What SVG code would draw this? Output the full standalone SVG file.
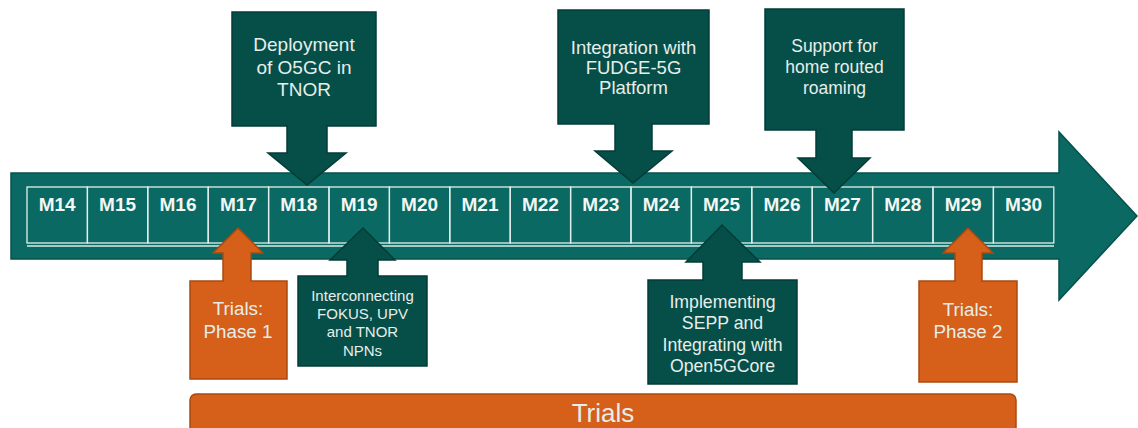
<svg xmlns="http://www.w3.org/2000/svg" width="1138" height="428" viewBox="0 0 1138 428">
<style>
.main{fill:#0A6962;stroke:#08504A;stroke-width:1.5}
.dk{fill:#064E48;stroke:#043C37;stroke-width:1.5}
.or{fill:#D6601A;stroke:#A9490F;stroke-width:1.5}
.cell{fill:none;stroke:#E4EEEB;stroke-width:1.3}
.m{font-family:"Liberation Sans",Arial,sans-serif;font-weight:bold;font-size:19px;fill:#F2F7F5;text-anchor:middle}
.t{font-family:"Liberation Sans",Arial,sans-serif;fill:#E6EEEB;text-anchor:middle}
</style>
<rect width="1138" height="428" fill="#FFFFFF"/>
<g id="timeline">
<path class="main" d="M11,173 H1059 V132 L1137,216 L1059,300 V259 H11 Z"/>
<line x1="27" y1="246" x2="1054" y2="246" stroke="#DCE8E4" stroke-width="1.5"/>
<g id="months">
<rect class="cell" x="27" y="187" width="60.4" height="56"/><text class="m" x="57.2" y="211">M14</text>
<rect class="cell" x="87.4" y="187" width="60.4" height="56"/><text class="m" x="117.6" y="211">M15</text>
<rect class="cell" x="147.8" y="187" width="60.4" height="56"/><text class="m" x="178" y="211">M16</text>
<rect class="cell" x="208.2" y="187" width="60.4" height="56"/><text class="m" x="238.4" y="211">M17</text>
<rect class="cell" x="268.6" y="187" width="60.4" height="56"/><text class="m" x="298.8" y="211">M18</text>
<rect class="cell" x="329" y="187" width="60.4" height="56"/><text class="m" x="359.2" y="211">M19</text>
<rect class="cell" x="389.4" y="187" width="60.4" height="56"/><text class="m" x="419.6" y="211">M20</text>
<rect class="cell" x="449.8" y="187" width="60.4" height="56"/><text class="m" x="480" y="211">M21</text>
<rect class="cell" x="510.2" y="187" width="60.4" height="56"/><text class="m" x="540.4" y="211">M22</text>
<rect class="cell" x="570.6" y="187" width="60.4" height="56"/><text class="m" x="600.8" y="211">M23</text>
<rect class="cell" x="631" y="187" width="60.4" height="56"/><text class="m" x="661.2" y="211">M24</text>
<rect class="cell" x="691.4" y="187" width="60.4" height="56"/><text class="m" x="721.6" y="211">M25</text>
<rect class="cell" x="751.8" y="187" width="60.4" height="56"/><text class="m" x="782" y="211">M26</text>
<rect class="cell" x="812.2" y="187" width="60.4" height="56"/><text class="m" x="842.4" y="211">M27</text>
<rect class="cell" x="872.6" y="187" width="60.4" height="56"/><text class="m" x="902.8" y="211">M28</text>
<rect class="cell" x="933" y="187" width="60.4" height="56"/><text class="m" x="963.2" y="211">M29</text>
<rect class="cell" x="993.4" y="187" width="60.4" height="56"/><text class="m" x="1023.6" y="211">M30</text>
</g>
</g>
<g id="connectors"></g>
<g id="deployment">
<path class="dk" d="M232,12 H376 V126 H327 V153 H346 L307,185 L268,153 H287 V126 H232 Z"/>
<text class="t" font-size="19" x="304" y="51">Deployment</text>
<text class="t" font-size="19" x="304" y="73.5">of O5GC in</text>
<text class="t" font-size="19" x="304" y="96">TNOR</text>
</g>
<g id="fudge">
<path class="dk" d="M558,10 H709 V124 H652 V151 H672 L633,183 L595,151 H615 V124 H558 Z"/>
<text class="t" font-size="18.5" x="633.5" y="53.5">Integration with</text>
<text class="t" font-size="18.5" x="633.5" y="73.5">FUDGE-5G</text>
<text class="t" font-size="18.5" x="633.5" y="93.5">Platform</text>
</g>
<g id="roaming">
<path class="dk" d="M765,9 H904 V130 H852 V158 H870 L834,193 L798,158 H816 V130 H765 Z"/>
<text class="t" font-size="17.5" x="834.5" y="52">Support for</text>
<text class="t" font-size="17.5" x="834.5" y="73">home routed</text>
<text class="t" font-size="17.5" x="834.5" y="94">roaming</text>
</g>
<g id="phase1">
<path class="or" d="M190,281 H223 V253 H213 L238,228 L263,253 H251 V281 H287 V379 H190 Z"/>
<text class="t" font-size="18.8" x="238" y="315">Trials:</text>
<text class="t" font-size="18.8" x="238" y="338">Phase 1</text>
</g>
<g id="interconnecting">
<path class="dk" d="M298,276 H347 V260 H330 L363,228 L395,260 H378 V276 H427 V366 H298 Z"/>
<text class="t" font-size="15" x="362.5" y="300.5">Interconnecting</text>
<text class="t" font-size="15" x="362.5" y="318.5">FOKUS, UPV</text>
<text class="t" font-size="15" x="362.5" y="336.5">and TNOR</text>
<text class="t" font-size="15" x="362.5" y="355.5">NPNs</text>
</g>
<g id="sepp">
<path class="dk" d="M648,280 H703 V262 H686 L722,225 L760,262 H742 V280 H797 V384 H648 Z"/>
<text class="t" font-size="17.7" x="722.5" y="308">Implementing</text>
<text class="t" font-size="17.7" x="722.5" y="329">SEPP and</text>
<text class="t" font-size="17.7" x="722.5" y="350.5">Integrating with</text>
<text class="t" font-size="17.7" x="722.5" y="372">Open5GCore</text>
</g>
<g id="phase2">
<path class="or" d="M919,281 H955 V253 H943 L968,228 L993,253 H982 V281 H1017 V382 H919 Z"/>
<text class="t" font-size="18.8" x="968" y="316">Trials:</text>
<text class="t" font-size="18.8" x="968" y="338">Phase 2</text>
</g>
<g id="trials">
<rect class="or" x="190" y="394" width="826" height="44" rx="6"/>
<text class="t" font-size="26" x="603" y="422">Trials</text>
</g>
</svg>
